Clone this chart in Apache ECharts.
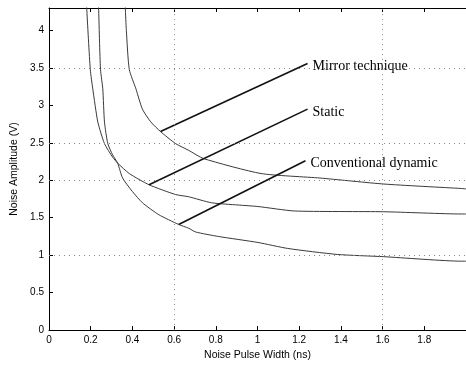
<!DOCTYPE html>
<html>
<head>
<meta charset="utf-8">
<script src="https://cdn.jsdelivr.net/npm/echarts@6/dist/echarts.min.js"></script>
<style>
html,body{margin:0;padding:0;background:#fff;}
#chart{width:466px;height:366px;}
</style>
</head>
<body>
<div id="chart"></div>
<script>
// ---- Data ----
const mirrorCurve = [[0.363,4.6],[0.366,4.3],[0.371,4.0],[0.385,3.48],[0.417,3.22],[0.448,2.95],[0.488,2.78],[0.535,2.65],[0.607,2.49],[0.670,2.40],[0.741,2.29],[1.017,2.09],[1.30,2.03],[1.606,1.95],[1.98,1.89],[2.0,1.885]];
const staticCurve = [[0.178,4.6],[0.181,4.3],[0.198,3.48],[0.210,3.22],[0.234,2.78],[0.266,2.49],[0.305,2.31],[0.329,2.23],[0.385,2.09],[0.480,1.94],[0.607,1.81],[0.670,1.78],[0.779,1.70],[0.907,1.67],[1.002,1.65],[1.178,1.59],[1.606,1.58],[1.98,1.55],[2.0,1.55]];
const dynamicCurve = [[0.236,4.6],[0.238,4.3],[0.247,3.48],[0.258,3.22],[0.266,2.78],[0.282,2.49],[0.305,2.34],[0.329,2.23],[0.353,2.03],[0.400,1.85],[0.448,1.70],[0.527,1.54],[0.622,1.41],[0.670,1.36],[0.703,1.31],[0.812,1.25],[1.002,1.17],[1.145,1.09],[1.382,1.01],[1.606,0.98],[1.98,0.92],[2.0,0.92]];

const labelNames = ['Mirror technique','Static','Conventional dynamic'];
const leaderStart = [[0.535,2.65],[0.480,1.94],[0.622,1.41]];
const leaderEnd = [[1.24,3.56],[1.24,2.95],[1.23,2.26]];

const gridXValues = [0.6, 1.6];
const gridYValues = [1, 2, 2.5, 3.5];

const xName = 'Noise Pulse Width (ns)';
const yName = 'Noise Amplitude (V)';

// ---- Chart ----
const chart = echarts.init(document.getElementById('chart'), null, {renderer:'canvas'});
const axisFont = {fontFamily:'Liberation Sans, Arial, sans-serif', fontSize:10, color:'#000'};
const curveStyle = {color:'#3a3a3a', width:1};

const series = [];
series.push({
  type:'line', data:[], silent:true,
  markLine:{
    silent:true, symbol:'none', label:{show:false},
    lineStyle:{type:[1,4], color:'#888', width:1},
    data: gridXValues.map(v=>({xAxis:v})).concat(gridYValues.map(v=>({yAxis:v})))
  }
});
[mirrorCurve, staticCurve, dynamicCurve].forEach(c=>{
  series.push({type:'line', data:c, showSymbol:false, symbol:'none', smooth:0.2, clip:true, lineStyle:curveStyle, silent:true, z:3});
});
labelNames.forEach((name,i)=>{
  series.push({
    type:'line', symbol:'circle', symbolSize:0, showSymbol:true, silent:true, z:4,
    lineStyle:{color:'#111', width:1.6},
    data:[leaderStart[i], {value:leaderEnd[i], label:{show:true, position:'right', distance:5, offset:[0,3], formatter:name,
      fontFamily:'Liberation Serif, Times New Roman, serif', fontSize:14, color:'#000'}}]
  });
});

chart.setOption({
  animation:false,
  backgroundColor:'#fff',
  grid:{left:49, top:8, width:421, height:325, containLabel:false},
  xAxis:[{
    type:'value', min:0, max:2, interval:0.2, position:'bottom',
    name:xName, nameLocation:'middle', nameGap:18,
    nameTextStyle:Object.assign({}, axisFont, {fontSize:10.5}),
    axisLine:{show:true, onZero:false, lineStyle:{color:'#000', width:1}},
    axisTick:{show:true, inside:true, length:4, lineStyle:{color:'#000'}},
    axisLabel:Object.assign({margin:5, showMaxLabel:false}, axisFont),
    splitLine:{show:false}
  },{
    type:'value', min:0, max:2, interval:0.2, position:'top',
    axisLine:{show:true, onZero:false, lineStyle:{color:'#000', width:1}},
    axisTick:{show:true, inside:true, length:4, lineStyle:{color:'#000'}},
    axisLabel:{show:false}, splitLine:{show:false}
  }],
  yAxis:{
    type:'value', min:0, max:4.3, interval:0.5,
    name:yName, nameLocation:'middle', nameGap:27, nameRotate:90,
    nameTextStyle:Object.assign({}, axisFont, {fontSize:10.5}),
    axisLine:{show:true, onZero:false, lineStyle:{color:'#000', width:1}},
    axisTick:{show:true, inside:true, length:4, lineStyle:{color:'#000'}},
    axisLabel:Object.assign({margin:5, showMaxLabel:false}, axisFont),
    splitLine:{show:false}
  },
  series:series
});
</script>
</body>
</html>
